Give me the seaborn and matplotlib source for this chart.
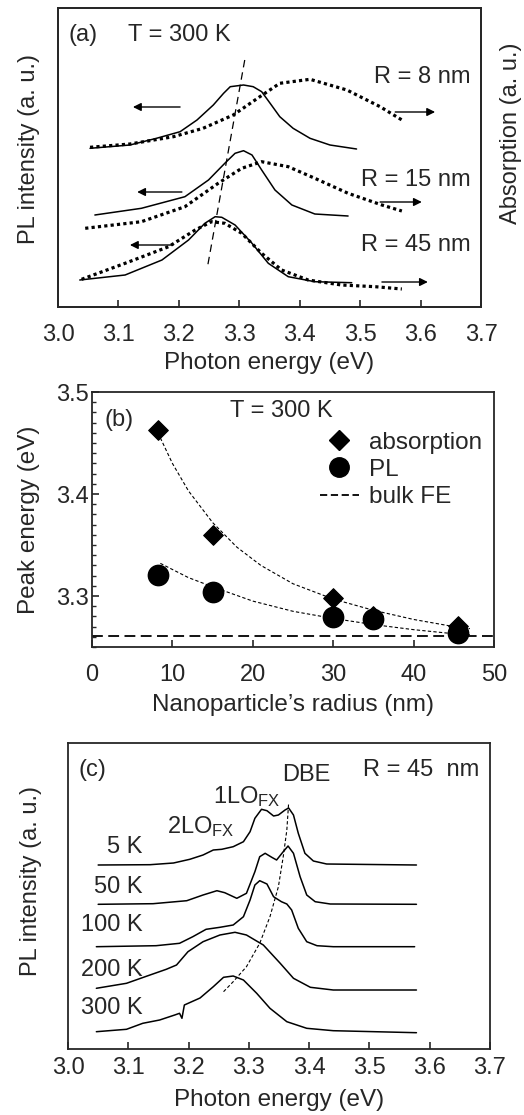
import numpy as np
import pandas as pd
import matplotlib
matplotlib.use("Agg")
import matplotlib.pyplot as plt
from matplotlib.lines import Line2D
from matplotlib.ticker import MultipleLocator
import seaborn as sns

# ---------------- data: panel (a) (intensity in arbitrary units) ----------------
pl8_E = [3.053, 3.119, 3.163, 3.202, 3.230, 3.257, 3.274, 3.285, 3.307, 3.323, 3.337, 3.351, 3.367,
         3.389, 3.417, 3.450, 3.494]
pl8_I = [158.7, 162, 168.7, 175.3, 187, 202, 213.7, 220.3, 222, 220.3, 215.3, 203.7, 190.3,
         178.7, 168.7, 162, 158]
ab8_E = [3.053, 3.119, 3.191, 3.240, 3.290, 3.334, 3.367, 3.417, 3.478, 3.533, 3.571]
ab8_I = [159.7, 163, 170.3, 178.7, 192, 210.3, 223.7, 227.7, 217, 200.3, 186.3]
pl15_E = [3.061, 3.138, 3.210, 3.249, 3.276, 3.293, 3.307, 3.321, 3.337, 3.359, 3.387, 3.425, 3.480]
pl15_I = [92, 98.7, 110.3, 127, 143.7, 153.7, 156.3, 152, 137, 117, 102, 93, 91]
ab15_E = [3.045, 3.138, 3.210, 3.265, 3.304, 3.337, 3.381, 3.425, 3.480, 3.536, 3.569]
ab15_I = [78.7, 85.3, 100.3, 123.7, 138.7, 145.3, 140.3, 128.7, 113.7, 102, 96]
pl45_E = [3.036, 3.111, 3.172, 3.216, 3.243, 3.260, 3.271, 3.293, 3.321, 3.348, 3.381, 3.425, 3.486]
pl45_I = [27, 32, 47, 67, 83.7, 90.3, 89.7, 82, 63.7, 43.7, 30.3, 25.3, 24.3]
ab45_E = [3.039, 3.111, 3.183, 3.227, 3.254, 3.276, 3.304, 3.337, 3.370, 3.414, 3.469, 3.525, 3.569]
ab45_I = [27.7, 43.7, 60.3, 77, 85.3, 83.7, 73.7, 53.7, 37, 27, 22, 20.3, 18]
shift_a_E = [3.309, 3.247]
shift_a_I = [247, 39]
size_labels = ["R = 8 nm", "R = 15 nm", "R = 45 nm"]
size_label_I = [230, 127, 62]
left_arrows = [(3.202, 3.124, 200), (3.205, 3.131, 115), (3.190, 3.119, 62)]
right_arrows = [(3.558, 3.624, 195), (3.533, 3.602, 105), (3.536, 3.612, 25)]

# ---------------- data: panel (b) ----------------
radius = [8.2, 15, 30, 35, 45.5]
abs_peak = [3.463, 3.360, 3.298, 3.280, 3.271]
pl_peak = [3.321, 3.304, 3.279, 3.277, 3.264]
bulk_fe = 3.261
abs_fit_R = [8.5, 10, 12, 15, 18, 21, 25, 30, 35, 40, 45, 47]
abs_fit_E = [3.455, 3.430, 3.403, 3.372, 3.348, 3.330, 3.312, 3.297, 3.286, 3.277, 3.270, 3.268]
pl_fit_R = [8.5, 12, 15, 20, 25, 30, 35, 40, 45, 47]
pl_fit_E = [3.332, 3.318, 3.309, 3.295, 3.285, 3.278, 3.272, 3.267, 3.263, 3.262]

# ---------------- data: panel (c) ----------------
temps = ["5 K", "50 K", "100 K", "200 K", "300 K"]
temp_label_I = [202, 162, 124, 79, 41]
s5_E = [3.050, 3.136, 3.175, 3.202, 3.224, 3.241, 3.255, 3.274, 3.291, 3.302, 3.310, 3.321, 3.330,
        3.341, 3.349, 3.360, 3.366, 3.374, 3.382, 3.393, 3.407, 3.429, 3.578]
s5_I = [184, 184.3, 186, 189.7, 194, 199, 199.7, 202.3, 207.3, 217.3, 230.7, 239.7, 238.3,
        233, 234, 239, 241, 234, 215.7, 195.7, 188, 185, 184]
s50_E = [3.050, 3.141, 3.197, 3.224, 3.247, 3.260, 3.280, 3.296, 3.310, 3.318, 3.327, 3.338, 3.346,
         3.357, 3.365, 3.374, 3.385, 3.396, 3.410, 3.435, 3.578]
s50_I = [144.7, 145.3, 148.3, 154, 158.3, 156.3, 150.7, 155.7, 177.3, 192.3, 195.7, 191.7, 189,
         197.3, 203, 195.7, 172.3, 154, 147.3, 145, 144.7]
s100_E = [3.047, 3.146, 3.185, 3.207, 3.229, 3.252, 3.274, 3.291, 3.302, 3.310, 3.318, 3.330, 3.341,
          3.354, 3.363, 3.371, 3.382, 3.396, 3.413, 3.440, 3.575]
s100_I = [102.3, 103.3, 105.7, 112.3, 119.7, 121.7, 124, 132.3, 149, 164, 168.3, 165, 152.3,
          147.3, 145, 139, 120.7, 107.3, 103.3, 102.3, 102.3]
s200_E = [3.047, 3.097, 3.136, 3.163, 3.180, 3.199, 3.224, 3.252, 3.277, 3.296, 3.324, 3.352, 3.374,
          3.402, 3.440, 3.578]
s200_I = [60.7, 65.7, 74, 79.7, 84, 97.3, 107.3, 114, 116.7, 114, 104, 85.7, 70.7, 61.7, 59, 59]
s300_E = [3.047, 3.097, 3.124, 3.152, 3.177, 3.185, 3.189, 3.193, 3.219, 3.241, 3.258, 3.274, 3.291,
          3.313, 3.335, 3.363, 3.396, 3.440, 3.578]
s300_I = [17.3, 19.7, 25.7, 29, 34, 35.7, 30.7, 44, 51, 62.3, 71.7, 73, 69, 55.7, 40.7, 27.3, 20.7,
          18.3, 16.3]
shift_c_E = [3.258, 3.274, 3.296, 3.318, 3.335, 3.349, 3.357, 3.363, 3.366]
shift_c_I = [57.3, 67.3, 82.3, 105.7, 132.3, 162.3, 192.3, 219, 246.3]

energy_ticks = [3.0, 3.1, 3.2, 3.3, 3.4, 3.5, 3.6, 3.7]

# ---------------- style ----------------
sns.set_style("ticks")
plt.rcParams['font.family'] = ['Liberation Sans', 'DejaVu Sans']
plt.rcParams['mathtext.fontset'] = 'custom'
plt.rcParams['mathtext.rm'] = 'Liberation Sans'
plt.rcParams['mathtext.it'] = 'Liberation Sans:italic'
plt.rcParams['axes.linewidth'] = 1.3
FS = 17
FL = 17.5

fig = plt.figure(figsize=(5.24, 11.15), dpi=100)
ax_a = fig.add_axes([0.1107, 0.72466, 0.8073, 0.26817])
ax_b = fig.add_axes([0.1756, 0.41973, 0.7672, 0.2287])
ax_c = fig.add_axes([0.1298, 0.05919, 0.8053, 0.27444])

K = 'black'
DOT = (0, (1, 1))

def line(ax, x, y, **kw):
    sns.lineplot(x=x, y=y, ax=ax, sort=False, estimator=None, color=K, **kw)

# ---------------- panel (a) ----------------
for E, I in [(pl8_E, pl8_I), (pl15_E, pl15_I), (pl45_E, pl45_I)]:
    line(ax_a, E, I, linewidth=1.1)
for E, I in [(ab8_E, ab8_I), (ab15_E, ab15_I), (ab45_E, ab45_I)]:
    line(ax_a, E, I, linewidth=2.3, linestyle=DOT)
line(ax_a, shift_a_E, shift_a_I, linewidth=0.9, dashes=(6, 4))
for x0, x1, y in left_arrows + right_arrows:
    ax_a.annotate("", xy=(x1, y), xytext=(x0, y),
                  arrowprops=dict(arrowstyle='-|>', color=K, lw=1.0, mutation_scale=12,
                                  shrinkA=0, shrinkB=0))
for lab, y in zip(size_labels, size_label_I):
    ax_a.text(3.683, y, lab, ha='right', va='center', fontsize=FS)
ax_a.text(3.018, 272, "(a)", ha='left', va='center', fontsize=FS)
ax_a.text(3.116, 272, "T = 300 K", ha='left', va='center', fontsize=FS)
ax_a.set_xlim(3.0, 3.7)
ax_a.set_ylim(0, 299)
ax_a.set_xticks(energy_ticks)
ax_a.set_xticklabels([f"{t:.1f}" for t in energy_ticks])
ax_a.set_yticks([])
ax_a.tick_params(axis='x', direction='in', length=5, width=1.2, pad=12, labelsize=FS)
ax_a.set_xlabel("Photon energy (eV)", fontsize=FL)
ax_a.xaxis.set_label_coords(0.5, -0.15)
ax_a.set_ylabel("PL intensity (a. u.)", fontsize=FS)
ax_a.yaxis.set_label_coords(-0.043, 0.53)
ax_a2 = ax_a.twinx()
ax_a2.set_yticks([])
ax_a2.set_ylabel("Absorption (a. u.)", fontsize=FS)
ax_a2.yaxis.set_label_coords(1.045, 0.58)

# ---------------- panel (b) ----------------
line(ax_b, abs_fit_R, abs_fit_E, linewidth=0.8, dashes=(3, 2))
line(ax_b, pl_fit_R, pl_fit_E, linewidth=0.8, dashes=(3, 2))
ax_b.axhline(bulk_fe, color=K, linewidth=1.3, dashes=(6, 3))
sns.scatterplot(x=radius, y=abs_peak, ax=ax_b, marker='D', s=100, color=K, edgecolor=K, zorder=5)
sns.scatterplot(x=radius, y=pl_peak, ax=ax_b, marker='o', s=210, color=K, edgecolor=K, zorder=5)
ax_b.text(1.5, 3.473, "(b)", ha='left', va='center', fontsize=FS)
ax_b.text(17.2, 3.481, "T = 300 K", ha='left', va='center', fontsize=FS)
handles = [Line2D([], [], marker='D', color=K, linestyle='none', markersize=10),
           Line2D([], [], marker='o', color=K, linestyle='none', markersize=14),
           Line2D([], [], color=K, linewidth=1.3, dashes=(4, 2))]
ax_b.legend(handles, ["absorption", "PL", "bulk FE"], loc='upper left',
            bbox_to_anchor=(0.567, 0.845), frameon=False, fontsize=FL,
            handlelength=1.6, handletextpad=0.4, labelspacing=0.22,
            borderpad=0, borderaxespad=0)
ax_b.set_xlim(0, 50)
ax_b.set_ylim(3.25, 3.5)
ax_b.set_xticks([0, 10, 20, 30, 40, 50])
ax_b.set_yticks([3.3, 3.4, 3.5])
ax_b.yaxis.set_minor_locator(MultipleLocator(0.01))
ax_b.tick_params(axis='both', which='major', direction='in', length=5, width=1.2, labelsize=FS)
ax_b.tick_params(axis='y', which='minor', direction='in', length=3, width=1.0)
ax_b.tick_params(axis='x', pad=12)
ax_b.tick_params(axis='y', pad=2)
ax_b.set_xlabel("Nanoparticle\u2019s radius (nm)", fontsize=FL)
ax_b.xaxis.set_label_coords(0.5, -0.185)
ax_b.set_ylabel("Peak energy (eV)", fontsize=FL)
ax_b.yaxis.set_label_coords(-0.129, 0.5)

# ---------------- panel (c) ----------------
for E, I in [(s5_E, s5_I), (s50_E, s50_I), (s100_E, s100_I), (s200_E, s200_I), (s300_E, s300_I)]:
    line(ax_c, E, I, linewidth=1.1)
line(ax_c, shift_c_E, shift_c_I, linewidth=0.8, dashes=(3, 2))
for lab, y in zip(temps, temp_label_I):
    ax_c.text(3.123, y, lab, ha='right', va='center', fontsize=FS)
ax_c.text(3.017, 279, "(c)", ha='left', va='center', fontsize=FS)
ax_c.text(3.355, 274, "DBE", ha='left', va='center', fontsize=FS)
ax_c.text(3.683, 279, "R = 45  nm", ha='right', va='center', fontsize=FS)
ax_c.text(3.240, 252, r"1LO$_\mathrm{FX}$", ha='left', va='center', fontsize=FS)
ax_c.text(3.164, 222, r"2LO$_\mathrm{FX}$", ha='left', va='center', fontsize=FS)
ax_c.set_xlim(3.0, 3.7)
ax_c.set_ylim(0, 306)
ax_c.set_xticks(energy_ticks)
ax_c.set_xticklabels([f"{t:.1f}" for t in energy_ticks])
ax_c.set_yticks([])
ax_c.tick_params(axis='x', direction='in', length=5, width=1.2, pad=6, labelsize=FS)
ax_c.set_xlabel("Photon energy (eV)", fontsize=FL)
ax_c.xaxis.set_label_coords(0.5, -0.13)
ax_c.set_ylabel("PL intensity (a. u.)", fontsize=FS)
ax_c.yaxis.set_label_coords(-0.062, 0.55)

fig.savefig("out.png", dpi=100)
